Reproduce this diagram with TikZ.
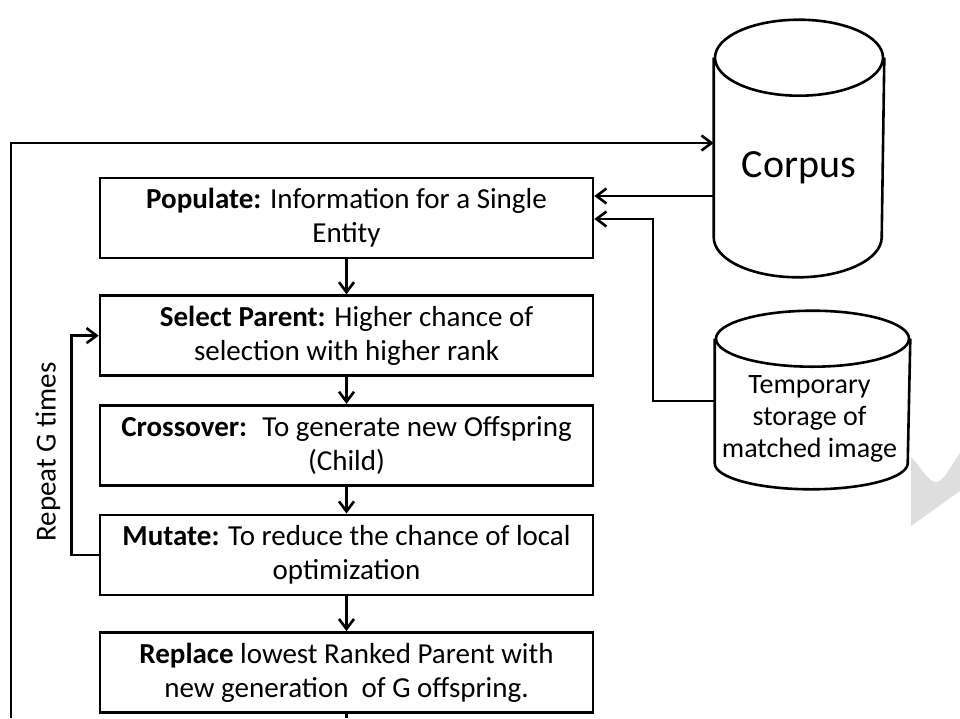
\documentclass[tikz,border=0pt]{standalone}
\usepackage{fontspec}
\setmainfont{Carlito}
\usetikzlibrary{positioning,arrows.meta}

\begin{document}
\begin{tikzpicture}[
        x=1pt, y=-1pt,
        line width=2.6pt,
        >={Straight Barb[length=10pt,width=15pt]},
        stepbox/.style={rectangle, draw=black, minimum width=493pt, minimum height=80pt, inner sep=0pt, align=center, font=\fontsize{29}{34}\selectfont},
        store/.style={rectangle, draw=none, inner sep=0pt, align=center},
        watermark/.style={fill=black!13, draw=none}
        ]
        \useasboundingbox (0,0) rectangle (960,718);

        % steps of the loop
        \node [stepbox] (populate) at (346.5,218) {\textbf{Populate:} Information for a Single\\Entity};
        \node [stepbox, below=35pt of populate] (select) {\textbf{Select Parent:} Higher chance of\\selection with higher rank};
        \node [stepbox, below=27pt of select] (crossover) {\textbf{Crossover:}~ To generate new Offspring\\(Child)};
        \node [stepbox, below=27pt of crossover] (mutate) {\textbf{Mutate:} To reduce the chance of local\\optimization};
        \node [stepbox, below=35pt of mutate] (replace) {\textbf{Replace} lowest Ranked Parent with\\new generation~ of G offspring.};

        \foreach \a/\b in {populate/select, select/crossover, crossover/mutate, mutate/replace}
            \draw[->] (\a) -- (\b);

        % stores
        \node [store, minimum width=168pt, minimum height=177pt,
               label={[font=\fontsize{40}{48}\selectfont, yshift=-20pt]center:Corpus}] (corpus) at (799,147.5) {};
        \draw (corpus.north west) -- (corpus.south west)
            arc[start angle=180, end angle=360, x radius=84pt, y radius=40pt] -- (corpus.north east);
        \draw (corpus.north) ellipse [x radius=84pt, y radius=38pt];

        \node [store, minimum width=193pt, minimum height=122pt,
               label={[font=\fontsize{28}{32}\selectfont, align=center, yshift=-18pt, xshift=-3pt]center:Temporary\\storage of\\matched image}] (temp) at (812.5,401) {};
        \draw (temp.north west) -- (temp.south west)
            arc[start angle=180, end angle=360, x radius=96.5pt, y radius=26pt] -- (temp.north east);
        \draw (temp.north) ellipse [x radius=96.5pt, y radius=28pt];

        \draw[->] (corpus.west |- 0,196) -- (populate.east |- 0,196);
        \draw[->] (temp.west) -| (653,219) -- (populate.east |- 0,219);

        % repeat loop
        \draw[->] (mutate.west) -- ++(-27,0) |- (select.west);
        \node [rotate=90, font=\fontsize{29}{34}\selectfont] (repeat) at (48,452) {Repeat G times};

        % outer loop
        \coordinate (bottomL) at (11,718);
        \coordinate (bottomR) at (346.5,718);
        \coordinate (loop) at (11,143);
        \draw (replace) -- (bottomR);
        \draw[->] (bottomL) -- (loop) -- (corpus.west |- loop);

        \fill[watermark] (911,457) .. controls (922,468) and (928,482) .. (936,482)
            .. controls (944,482) and (952,464) .. (960,453) -- (960,491) -- (911,526) -- cycle;
\end{tikzpicture}
\end{document}
